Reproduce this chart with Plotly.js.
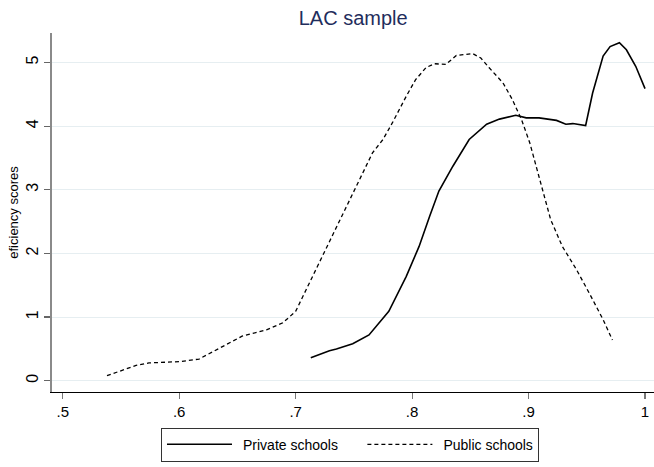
<!DOCTYPE html>
<html>
<head>
<meta charset="utf-8">
<script src="https://cdn.plot.ly/plotly-3.0.1.min.js"></script>
<style>html,body{margin:0;padding:0;background:#fff;}#chart{width:654px;height:467px;}</style>
</head>
<body>
<div id="chart"></div>
<script>
var privateX = [0.713,0.720,0.729,0.735,0.749,0.763,0.780,0.795,0.806,0.815,0.823,0.835,0.849,0.864,0.875,0.889,0.898,0.909,0.924,0.932,0.938,0.949,0.955,0.964,0.970,0.978,0.984,0.992,1.000];
var privateY = [0.36,0.41,0.47,0.50,0.58,0.72,1.09,1.64,2.11,2.58,2.98,3.37,3.79,4.03,4.11,4.17,4.13,4.13,4.09,4.03,4.04,4.01,4.52,5.10,5.25,5.31,5.20,4.94,4.59];
var publicX = [0.538,0.550,0.563,0.574,0.588,0.600,0.617,0.632,0.654,0.675,0.689,0.700,0.709,0.720,0.732,0.749,0.766,0.775,0.783,0.795,0.803,0.812,0.819,0.829,0.838,0.852,0.859,0.866,0.878,0.886,0.894,0.901,0.909,0.919,0.929,0.941,0.952,0.964,0.972];
var publicY = [0.08,0.16,0.24,0.28,0.29,0.30,0.34,0.49,0.70,0.80,0.91,1.09,1.43,1.85,2.32,2.95,3.58,3.79,4.05,4.47,4.73,4.92,4.98,4.97,5.11,5.14,5.07,4.92,4.68,4.42,4.10,3.74,3.21,2.53,2.11,1.75,1.38,0.96,0.64];
var xTickVals = [0.5,0.6,0.7,0.8,0.9,1.0];
var xTickText = ['.5','.6','.7','.8','.9','1'];
var yTickVals = [0,1,2,3,4,5];
var yTickText = ['0','1','2','3','4','5'];
var seriesNames = ['Private schools','Public schools'];

var font = 'Liberation Sans, Arial, sans-serif';
var pad = '\u00a0\u00a0\u00a0\u00a0\u00a0';
var traces = [
  {x: privateX, y: privateY, type: 'scatter', mode: 'lines', name: seriesNames[0] + pad,
   line: {color: '#000', width: 1.6}},
  {x: publicX, y: publicY, type: 'scatter', mode: 'lines', name: seriesNames[1],
   line: {color: '#000', width: 1.3, dash: '4px,3px'}}
];
var layout = {
  width: 654, height: 467,
  margin: {l: 52, r: 0, t: 33, b: 75},
  paper_bgcolor: '#fff', plot_bgcolor: '#fff',
  font: {family: font, color: '#000'},
  title: {text: 'LAC sample', font: {family: font, size: 20, color: '#1f2d5c'},
          x: 0.54, xanchor: 'center', y: 0.962, yanchor: 'middle'},
  xaxis: {range: [0.4908, 1.0077], tickvals: xTickVals, ticktext: xTickText,
          showgrid: false, zeroline: false, showline: true, linecolor: '#000', linewidth: 1,
          ticks: 'outside', ticklen: 6, tickcolor: '#777', tickwidth: 1.2,
          tickfont: {size: 15, color: '#000'}, fixedrange: true},
  yaxis: {range: [-0.177, 5.463], tickvals: yTickVals, ticktext: yTickText, tickangle: -90,
          showgrid: true, gridcolor: '#e6eef1', gridwidth: 1, zeroline: false,
          showline: true, linecolor: '#8a8a8a', linewidth: 2,
          ticks: 'outside', ticklen: 6, tickcolor: '#666', tickwidth: 1.2,
          tickfont: {size: 16, color: '#000'},
          title: {text: 'eficiency scores', font: {size: 13, color: '#000'}, standoff: 2},
          fixedrange: true},
  showlegend: true,
  legend: {orientation: 'h', x: 0.495, xanchor: 'center', y: -0.0994, yanchor: 'top',
           bordercolor: '#333', borderwidth: 1, bgcolor: '#fff',
           font: {size: 14, color: '#000'}, itemwidth: 71, traceorder: 'normal'}
};
Plotly.newPlot('chart', traces, layout, {displayModeBar: false, staticPlot: true}).then(function () {
  document.querySelectorAll('.legend .legendlines path').forEach(function (p) {
    p.setAttribute('d', 'M5,0h65');
  });
});
</script>
</body>
</html>
